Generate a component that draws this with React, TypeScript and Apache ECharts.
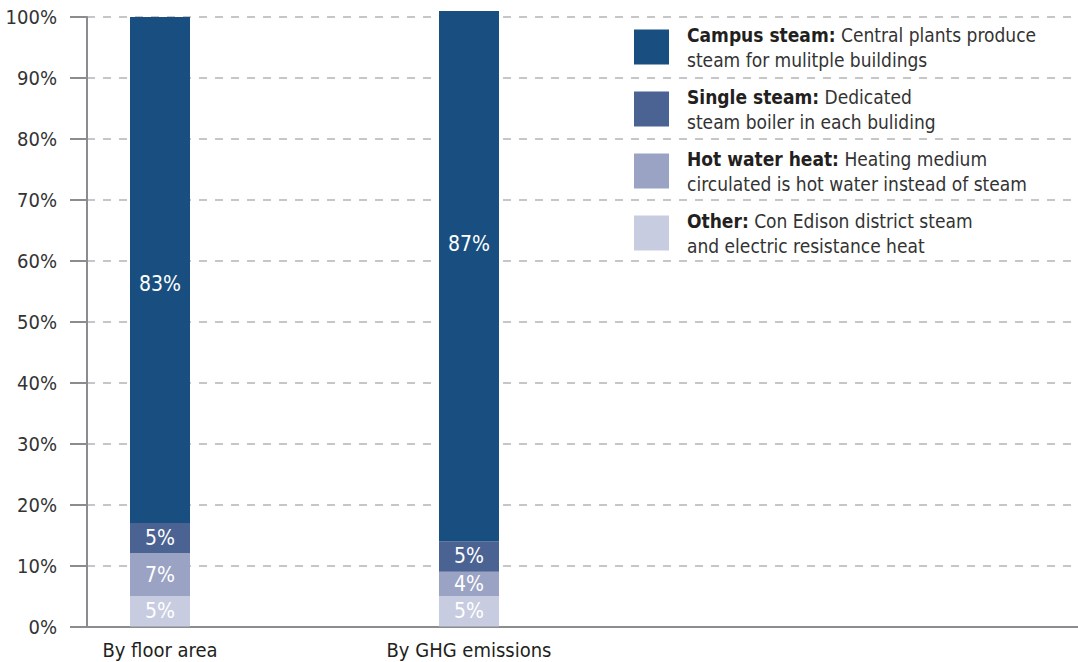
import React, { useEffect, useRef } from "react";
import * as echarts from "echarts";

// Share of heating system types, by floor area and by GHG emissions
const categories = ["By floor area", "By GHG emissions"];
const campusSteam = [83, 87];
const singleSteam = [5, 5];
const hotWaterHeat = [7, 4];
const otherHeat = [5, 5];

const seriesNames = ["Campus steam", "Single steam", "Hot water heat", "Other"];
const legendDescriptions: Record<string, string[]> = {
  "Campus steam": ["Central plants produce", "steam for mulitple buildings"],
  "Single steam": ["Dedicated", "steam boiler in each buliding"],
  "Hot water heat": ["Heating medium", "circulated is hot water instead of steam"],
  Other: ["Con Edison district steam", "and electric resistance heat"],
};

const FONT = "'DejaVu Sans Condensed', 'Liberation Sans', Arial, sans-serif";

const colors: Record<string, string> = {
  "Campus steam": "#184f80",
  "Single steam": "#4b6393",
  "Hot water heat": "#9aa3c3",
  Other: "#c8cce0",
};

// The big labels on the campus segments sit off-centre
const campusLabelShift = [14, -32];

export default function App() {
  const ref = useRef<HTMLDivElement>(null);

  useEffect(() => {
    if (!ref.current) return;
    const chart = echarts.init(ref.current, undefined, { renderer: "svg" });

    const makeSeries = (name: string, values: number[], shifts?: number[]) => ({
      name,
      type: "bar",
      stack: "total",
      xAxisIndex: 1,
      yAxisIndex: 1,
      barWidth: 60,
      clip: false,
      itemStyle: { color: colors[name] },
      label: {
        show: true,
        position: "inside",
        color: "#ffffff",
        fontFamily: FONT,
        fontSize: 21,
        formatter: "{c}%",
      },
      data: values.map((v, i) => ({
        value: v,
        label: shifts ? { offset: [0, shifts[i]] } : undefined,
      })),
    });

    const axisGray = "#8a8c90";

    chart.setOption({
      animation: false,
      textStyle: { fontFamily: FONT },
      grid: [
        // frame: value axis, gridlines and baseline across the full width
        { left: 87, right: 0, top: 17, bottom: 35.5, containLabel: false },
        // bars: two category bands
        { left: 5.5, right: 454.5, top: 17, bottom: 35.5, containLabel: false },
      ],
      xAxis: [
        {
          gridIndex: 0,
          type: "value",
          min: 0,
          max: 1,
          axisLine: { show: true, onZero: false, lineStyle: { color: axisGray, width: 2 } },
          axisTick: { show: false },
          axisLabel: { show: false },
          splitLine: { show: false },
        },
        {
          gridIndex: 1,
          type: "category",
          data: categories,
          axisLine: { show: false },
          axisTick: { show: false },
          splitLine: { show: false },
          axisLabel: {
            color: "#231f20",
            fontFamily: FONT,
            fontSize: 20,
            margin: 13,
          },
        },
      ],
      yAxis: [
        {
          gridIndex: 0,
          type: "value",
          min: 0,
          max: 100,
          interval: 10,
          axisLine: { show: true, onZero: false, lineStyle: { color: axisGray, width: 2 } },
          axisTick: { show: true, length: 17, lineStyle: { color: axisGray, width: 2 } },
          splitLine: { show: true, lineStyle: { color: "#b4b4b4", type: [8, 8], width: 1.5 } },
          axisLabel: {
            formatter: "{value}%",
            color: "#333333",
            fontFamily: FONT,
            fontSize: 20,
            margin: 30,
          },
        },
        {
          gridIndex: 1,
          type: "value",
          min: 0,
          max: 100,
          show: false,
        },
      ],
      legend: {
        data: seriesNames,
        orient: "vertical",
        left: 634,
        top: 25,
        padding: 0,
        itemWidth: 35,
        itemHeight: 35,
        itemGap: 18,
        icon: "rect",
        selectedMode: false,
        formatter: (name: string) => {
          const d = legendDescriptions[name];
          return `{b|${name}:}{n| ${d[0]}}\n{n|${d[1]}}`;
        },
        textStyle: {
          padding: [0, 0, 0, 13],
          rich: {
            b: { fontFamily: FONT, fontWeight: "bold", fontSize: 19, color: "#231f20", lineHeight: 25 },
            n: { fontFamily: FONT, fontSize: 19, color: "#333333", lineHeight: 25 },
          },
        },
      },
      series: [
        makeSeries("Other", otherHeat),
        makeSeries("Hot water heat", hotWaterHeat),
        makeSeries("Single steam", singleSteam),
        makeSeries("Campus steam", campusSteam, campusLabelShift),
      ],
    });

    return () => chart.dispose();
  }, []);

  return (
    <div
      ref={ref}
      style={{ position: "fixed", left: 0, top: 0, width: 1078, height: 662, background: "#ffffff" }}
    />
  );
}
